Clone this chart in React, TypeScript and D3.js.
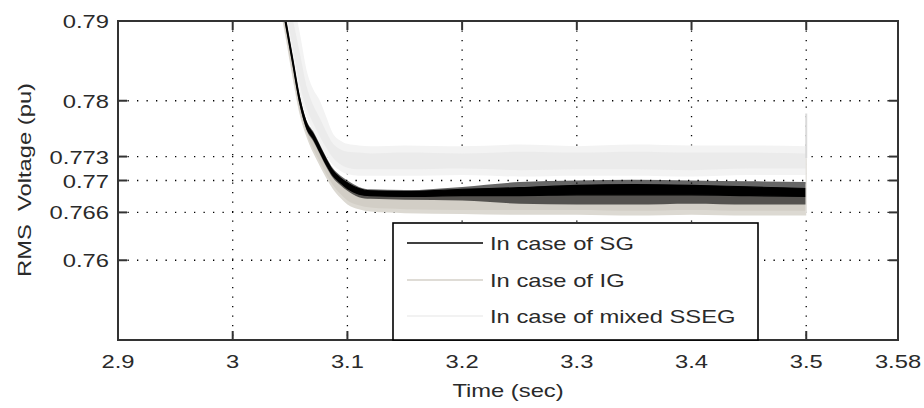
import React from 'react';
import * as d3 from 'd3';

const W = 924;
const H = 408;

const X_TICKS = [2.9, 3, 3.1, 3.2, 3.3, 3.4, 3.5, 3.58];
const X_TICK_LABELS = ['2.9', '3', '3.1', '3.2', '3.3', '3.4', '3.5', '3.58'];
const Y_TICKS = [0.76, 0.766, 0.77, 0.773, 0.78, 0.79];
const Y_TICK_LABELS = ['0.76', '0.766', '0.77', '0.773', '0.78', '0.79'];

const TIME = [3.04, 3.046, 3.052, 3.0585, 3.065, 3.07, 3.076, 3.082, 3.087, 3.094, 3.10, 3.11, 3.12, 3.15, 3.2, 3.25, 3.3, 3.35, 3.4, 3.45, 3.5];

// SG (black) envelopes
const SG_OUTER_HI = [0.7956, 0.7906, 0.7858, 0.7806, 0.7773, 0.7762, 0.7745, 0.7728, 0.7716, 0.7706, 0.7700, 0.7692, 0.7689, 0.7688, 0.7692, 0.7698, 0.7700, 0.7701, 0.7700, 0.7699, 0.7698];
const SG_OUTER_LO = [0.7944, 0.7894, 0.7846, 0.7794, 0.7761, 0.7750, 0.7733, 0.7716, 0.7704, 0.7694, 0.7687, 0.7679, 0.7677, 0.7676, 0.7675, 0.7671, 0.7670, 0.7670, 0.7671, 0.7670, 0.7670];
const SG_CORE_HI = [0.7953, 0.7903, 0.7855, 0.7803, 0.7770, 0.7759, 0.7742, 0.7725, 0.7713, 0.7703, 0.7697, 0.7690, 0.7687, 0.7686, 0.7689, 0.7691, 0.7694, 0.7695, 0.7694, 0.7692, 0.7690];
const SG_CORE_LO = [0.7947, 0.7897, 0.7849, 0.7797, 0.7764, 0.7753, 0.7736, 0.7719, 0.7707, 0.7697, 0.7690, 0.7683, 0.7681, 0.7680, 0.7681, 0.7681, 0.7682, 0.7682, 0.7682, 0.7681, 0.7680];

// IG (grey) envelopes
const IG_HI = [0.7954, 0.7904, 0.7856, 0.7804, 0.7771, 0.7760, 0.7743, 0.7726, 0.7714, 0.7703, 0.7696, 0.7689, 0.7686, 0.7685, 0.7686, 0.7686, 0.7686, 0.7686, 0.7686, 0.7686, 0.7686];
const IG_OUTER_LO = [0.7925, 0.7880, 0.7830, 0.7782, 0.7752, 0.7735, 0.7718, 0.7702, 0.7690, 0.7678, 0.7670, 0.7664, 0.7661, 0.7659, 0.7658, 0.7657, 0.7657, 0.7656, 0.7657, 0.7656, 0.7656];
const IG_CORE_LO = [0.7930, 0.7885, 0.7835, 0.7787, 0.7757, 0.7740, 0.7723, 0.7707, 0.7695, 0.7683, 0.7675, 0.7669, 0.7666, 0.7664, 0.7663, 0.7663, 0.7663, 0.7662, 0.7663, 0.7662, 0.7662];

// mixed SSEG (light grey) envelopes
const SSEG_OUTER_HI = [0.7990, 0.7960, 0.7930, 0.7885, 0.7835, 0.7815, 0.7800, 0.7778, 0.7760, 0.7750, 0.7746, 0.7744, 0.7743, 0.7744, 0.7743, 0.7745, 0.7743, 0.7745, 0.7744, 0.7744, 0.7743];
const SSEG_OUTER_LO = [0.7955, 0.7905, 0.7858, 0.7808, 0.7778, 0.7762, 0.7745, 0.7730, 0.7720, 0.7712, 0.7708, 0.7706, 0.7706, 0.7706, 0.7707, 0.7705, 0.7706, 0.7706, 0.7705, 0.7707, 0.7707];
const SSEG_CORE_HI = [0.7980, 0.7945, 0.7905, 0.7860, 0.7815, 0.7795, 0.7778, 0.7760, 0.7747, 0.7739, 0.7736, 0.7735, 0.7734, 0.7735, 0.7734, 0.7736, 0.7735, 0.7736, 0.7735, 0.7735, 0.7734];
const SSEG_CORE_LO = [0.7962, 0.7915, 0.7870, 0.7820, 0.7788, 0.7772, 0.7755, 0.7740, 0.7729, 0.7720, 0.7716, 0.7714, 0.7714, 0.7714, 0.7715, 0.7713, 0.7714, 0.7714, 0.7713, 0.7715, 0.7715];

// final transients at t = 3.5
const END_TIME = 3.5;
const SSEG_SPIKE = [0.7784, 0.7728];
const IG_SPIKE = [0.7728, 0.7660];

const LEGEND_LABELS = ['In case of SG', 'In case of IG', 'In case of mixed SSEG'];
const LEGEND_COLORS = ['#000000', '#d4d0c8', '#eeeeee'];

const M = { left: 118, top: 21, right: 898, bottom: 340 };
const FONT = "'Liberation Sans', Arial, sans-serif";
const FS = 19;
const SX = 1.25;

const x = d3.scaleLinear().domain([2.9, 3.58]).range([M.left, M.right]);
const y = d3.scaleLinear().domain([0.75, 0.79]).range([M.bottom, M.top]);

function band(hi: number[], lo: number[]): string {
  const gen = d3
    .area<number>()
    .x((_, i) => x(TIME[i]))
    .y0((_, i) => y(lo[i]))
    .y1((_, i) => y(hi[i]))
    .curve(d3.curveMonotoneX);
  return gen(TIME) || '';
}

function Txt(props: { x: number; y: number; anchor?: string; rotate?: boolean; children: string }) {
  const tf = props.rotate
    ? `translate(${props.x},${props.y}) rotate(-90) scale(${SX},1)`
    : `translate(${props.x},${props.y}) scale(${SX},1)`;
  return (
    <g transform={tf}>
      <text
        textAnchor={props.anchor || 'start'}
        fontFamily={FONT}
        fontSize={FS}
        fill="#2a2a2a"
        style={{ whiteSpace: 'pre' }}
      >
        {props.children}
      </text>
    </g>
  );
}

export default function App() {
  const gridX = X_TICKS.filter((t) => t > 2.9 && t < 3.58);
  const gridY = Y_TICKS.filter((t) => t < 0.79);
  const legendTop = 223;
  const legendRows = [243, 280, 316];
  return (
    <svg
      width={W}
      height={H}
      viewBox={`0 0 ${W} ${H}`}
      style={{ position: 'absolute', left: 0, top: 0, background: '#fff' }}
    >
      <defs>
        <clipPath id="plotClip">
          <rect x={M.left} y={M.top} width={M.right - M.left} height={M.bottom - M.top} />
        </clipPath>
      </defs>
      <rect x={0} y={0} width={W} height={H} fill="#fff" />

      {/* grid */}
      <g stroke="#000" strokeWidth={1.3} strokeDasharray="1.3 8.2">
        {gridX.map((t) => (
          <line key={'gx' + t} x1={x(t)} x2={x(t)} y1={M.top} y2={M.bottom} />
        ))}
        {gridY.map((t) => (
          <line key={'gy' + t} x1={M.left} x2={M.right} y1={y(t)} y2={y(t)} />
        ))}
      </g>

      {/* data */}
      <g clipPath="url(#plotClip)">
        <path d={band(SSEG_OUTER_HI, SSEG_OUTER_LO)} fill="#f3f3f3" />
        <path d={band(SSEG_CORE_HI, SSEG_CORE_LO)} fill="#ebebeb" />
        <path d={band(IG_HI, IG_OUTER_LO)} fill="#dcd9d2" />
        <path d={band(IG_HI, IG_CORE_LO)} fill="#d2cec6" />
        <path d={band(SG_OUTER_HI, SG_OUTER_LO)} fill="#000" fillOpacity={0.6} />
        <path d={band(SG_CORE_HI, SG_CORE_LO)} fill="#000" stroke="#000" strokeWidth={1.2} />
        <line x1={x(END_TIME)} x2={x(END_TIME)} y1={y(SSEG_SPIKE[0])} y2={y(SSEG_SPIKE[1])} stroke="#dadada" strokeWidth={2} />
        <line x1={x(END_TIME)} x2={x(END_TIME)} y1={y(IG_SPIKE[0])} y2={y(IG_SPIKE[1])} stroke="#e6e4e0" strokeWidth={1.5} />
      </g>

      {/* axes box and ticks */}
      <g stroke="#333" strokeWidth={2} fill="none">
        <rect x={M.left} y={M.top} width={M.right - M.left} height={M.bottom - M.top} />
        {X_TICKS.map((t) => (
          <g key={'tx' + t}>
            <line x1={x(t)} x2={x(t)} y1={M.bottom} y2={M.bottom - 9} />
            <line x1={x(t)} x2={x(t)} y1={M.top} y2={M.top + 9} />
          </g>
        ))}
        {Y_TICKS.map((t) => (
          <g key={'ty' + t}>
            <line x1={M.left} x2={M.left + 9} y1={y(t)} y2={y(t)} />
            <line x1={M.right} x2={M.right - 9} y1={y(t)} y2={y(t)} />
          </g>
        ))}
      </g>

      {/* tick labels */}
      {X_TICKS.map((t, i) => (
        <Txt key={'lx' + t} x={x(t)} y={368} anchor="middle">
          {X_TICK_LABELS[i]}
        </Txt>
      ))}
      {Y_TICKS.map((t, i) => (
        <Txt key={'ly' + t} x={109} y={y(t) + 7} anchor="end">
          {Y_TICK_LABELS[i]}
        </Txt>
      ))}

      {/* axis titles */}
      <Txt x={x(3.24)} y={397} anchor="middle">
        Time (sec)
      </Txt>
      <Txt x={31} y={180} anchor="middle" rotate>
        {'RMS  Voltage (pu)'}
      </Txt>

      {/* legend */}
      <rect x={393} y={legendTop} width={365} height={M.bottom - legendTop} fill="#fff" stroke="#000" strokeWidth={1.6} />
      {LEGEND_LABELS.map((lab, i) => (
        <g key={lab}>
          <line x1={407} x2={483} y1={legendRows[i]} y2={legendRows[i]} stroke={LEGEND_COLORS[i]} strokeWidth={1.6} />
          <Txt x={490} y={legendRows[i] + 7}>
            {lab}
          </Txt>
        </g>
      ))}
    </svg>
  );
}
